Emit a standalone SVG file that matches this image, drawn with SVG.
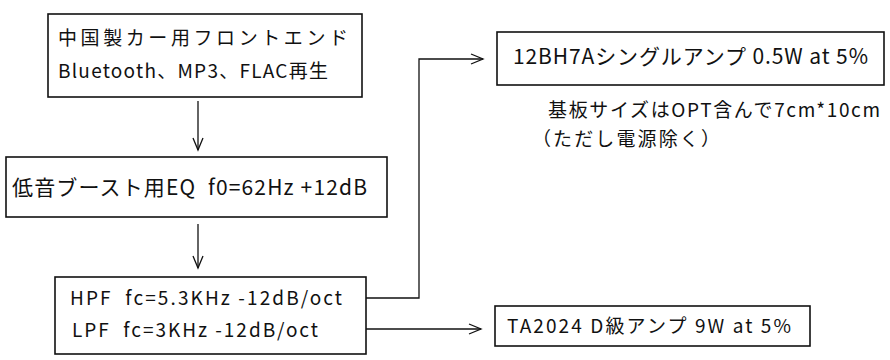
<svg xmlns="http://www.w3.org/2000/svg" width="890" height="360" viewBox="0 0 890 360">
<style>
.bg{fill:#fff}
.box{fill:#fff;stroke:#111;stroke-width:1.6}
.cn{fill:none;stroke:#111;stroke-width:1.3}
text{font-family:"Noto Sans CJK JP","Liberation Sans",sans-serif;fill:#111}
</style>
<defs>
<marker id="ah" markerUnits="userSpaceOnUse" markerWidth="16" markerHeight="12" refX="13" refY="6" orient="auto">
<path d="M1,1 L13,6 L1,11" fill="none" stroke="#111" stroke-width="1.3"/>
</marker>
</defs>
<rect class="bg" x="0" y="0" width="890" height="360"/>
<g id="connectors">
<path class="cn" d="M198,101 V150" marker-end="url(#ah)"/>
<path class="cn" d="M198,224 V268" marker-end="url(#ah)"/>
<path class="cn" d="M366,298 H419 V59 H483" marker-end="url(#ah)"/>
<path class="cn" d="M366,329 H481" marker-end="url(#ah)"/>
</g>
<g id="frontend">
<rect class="box" x="48" y="14" width="314" height="83"/>
<text x="58" y="45" font-size="19" textLength="290" lengthAdjust="spacing">中国製カー用フロントエンド</text>
<text x="58" y="78" font-size="19" textLength="270" lengthAdjust="spacing">Bluetooth、MP3、FLAC再生</text>
</g>
<g id="eq">
<rect class="box" x="6" y="157" width="381" height="60"/>
<text x="12" y="195" font-size="21" textLength="355" lengthAdjust="spacing" xml:space="preserve">低音ブースト用EQ  f0=62Hz +12dB</text>
</g>
<g id="filter">
<rect class="box" x="55" y="277" width="311" height="77"/>
<text x="70" y="305" font-size="19" textLength="272" lengthAdjust="spacing" xml:space="preserve">HPF  fc=5.3KHz -12dB/oct</text>
<text x="72" y="337" font-size="19" textLength="246" lengthAdjust="spacing" xml:space="preserve">LPF  fc=3KHz -12dB/oct</text>
</g>
<g id="tube-amp">
<rect class="box" x="497" y="32" width="387" height="53"/>
<text x="513" y="64" font-size="21" textLength="355" lengthAdjust="spacing">12BH7Aシングルアンプ 0.5W at 5%</text>
</g>
<g id="note">
<text x="548" y="117" font-size="19" textLength="332" lengthAdjust="spacing">基板サイズはOPT含んで7cm*10cm</text>
<text x="532" y="146" font-size="19" textLength="188" lengthAdjust="spacing">（ただし電源除く）</text>
</g>
<g id="class-d-amp">
<rect class="box" x="495" y="306" width="315" height="40"/>
<text x="507" y="333" font-size="19" textLength="284" lengthAdjust="spacing">TA2024 D級アンプ 9W at 5%</text>
</g>
</svg>
